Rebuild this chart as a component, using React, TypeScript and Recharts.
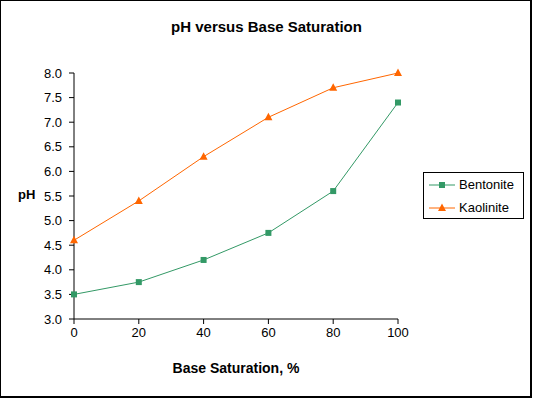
import React from 'react';
import { LineChart, Line, XAxis, YAxis } from 'recharts';

const baseSaturation = [0, 20, 40, 60, 80, 100];
const bentonite = [3.5, 3.75, 4.2, 4.75, 5.6, 7.4];
const kaolinite = [4.6, 5.4, 6.3, 7.1, 7.7, 8.0];
const yTicks = [3.0, 3.5, 4.0, 4.5, 5.0, 5.5, 6.0, 6.5, 7.0, 7.5, 8.0];
const xTicks = [0, 20, 40, 60, 80, 100];

const GREEN = '#339966';
const ORANGE = '#FF6600';
const FONT = '"Liberation Sans", Arial, sans-serif';

const data = baseSaturation.map((x, i) => ({ x, Bentonite: bentonite[i], Kaolinite: kaolinite[i] }));

const SquareDot = (props: any) => {
  const { cx, cy } = props;
  if (cx == null || cy == null) return null;
  return <rect x={cx - 3} y={cy - 3} width={6} height={6} fill={GREEN} />;
};

const TriDot = (props: any) => {
  const { cx, cy } = props;
  if (cx == null || cy == null) return null;
  return <polygon points={`${cx},${cy - 4.5} ${cx + 4},${cy + 3} ${cx - 4},${cy + 3}`} fill={ORANGE} />;
};

const LegendBox = () => (
  <div style={{ position: 'absolute', left: 423, top: 172, border: '1px solid #000', background: '#fff', width: 101, height: 47, boxSizing: 'border-box', fontFamily: FONT, fontSize: 13 }}>
    <svg width={30} height={46} style={{ position: 'absolute', left: 3, top: 0 }}>
      <line x1={2} y1={12} x2={28} y2={12} stroke={GREEN} strokeWidth={1} />
      <rect x={12} y={9} width={6} height={6} fill={GREEN} />
      <line x1={2} y1={35} x2={28} y2={35} stroke={ORANGE} strokeWidth={1} />
      <polygon points="15,30.5 19,38 11,38" fill={ORANGE} />
    </svg>
    <div style={{ position: 'absolute', left: 35, top: 4, color: '#000' }}>Bentonite</div>
    <div style={{ position: 'absolute', left: 35, top: 27, color: '#000' }}>Kaolinite</div>
  </div>
);

export default function App() {
  return (
    <div style={{ position: 'absolute', left: 0, top: 0, width: 533, height: 398, background: '#fff' }}>
      <LineChart width={533} height={398} data={data} margin={{ top: 73, right: 135, left: 24, bottom: 49 }} style={{ fontFamily: FONT }}>
        <XAxis
          dataKey="x"
          type="number"
          domain={[0, 100]}
          ticks={xTicks}
          tickSize={5}
          tickMargin={4}
          height={30}
          stroke="#000"
          tick={{ fill: '#000', fontSize: 13, fontFamily: FONT }}
          label={{ value: 'Base Saturation, %', position: 'bottom', offset: 14, style: { fontWeight: 'bold', fontSize: 14, fill: '#000', fontFamily: FONT } }}
        />
        <YAxis
          type="number"
          domain={[3, 8]}
          ticks={yTicks}
          interval={0}
          tickFormatter={(v: number) => v.toFixed(1)}
          tickSize={5}
          tickMargin={7}
          width={50}
          stroke="#000"
          tick={{ fill: '#000', fontSize: 13, fontFamily: FONT }}
        />
        <Line type="linear" dataKey="Bentonite" stroke={GREEN} strokeWidth={1} dot={<SquareDot />} activeDot={false} isAnimationActive={false} />
        <Line type="linear" dataKey="Kaolinite" stroke={ORANGE} strokeWidth={1} dot={<TriDot />} activeDot={false} isAnimationActive={false} />
      </LineChart>
      <LegendBox />
      <div style={{ position: 'absolute', left: 0, top: 18, width: 533, textAlign: 'center', fontFamily: FONT, fontWeight: 'bold', fontSize: 15, color: '#000' }}>pH versus Base Saturation</div>
      <div style={{ position: 'absolute', left: 18, top: 187, fontFamily: FONT, fontWeight: 'bold', fontSize: 13, color: '#000' }}>pH</div>
      <div style={{ position: 'absolute', left: 0, top: 0, width: 532, height: 398, boxSizing: 'border-box', borderStyle: 'solid', borderColor: '#000', borderWidth: '1px 2px 2px 1px', pointerEvents: 'none' }} />
    </div>
  );
}
